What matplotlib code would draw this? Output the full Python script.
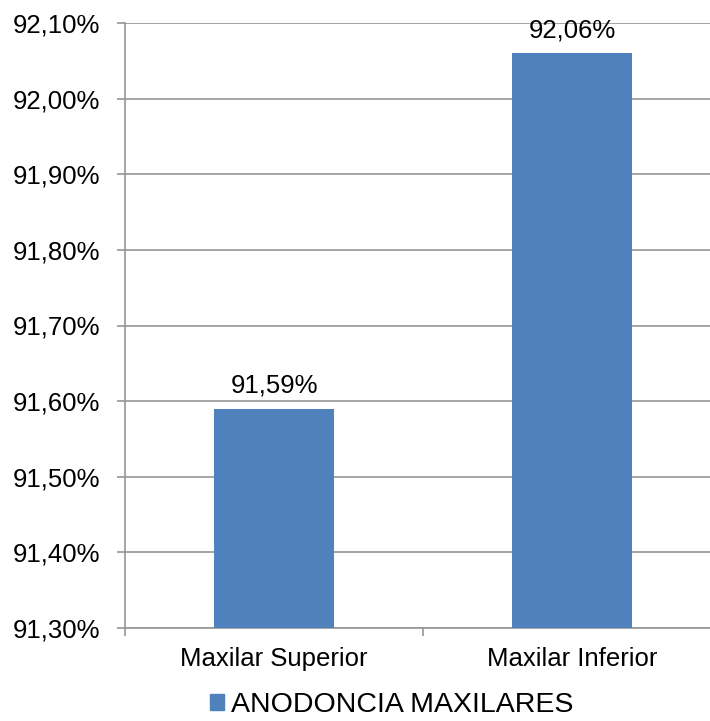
import matplotlib.pyplot as plt
from matplotlib.patches import Patch
from matplotlib.ticker import FixedLocator

categories = ['Maxilar Superior', 'Maxilar Inferior']
values = [91.59, 92.06]
series_name = 'ANODONCIA MAXILARES'
y_ticks = [91.30, 91.40, 91.50, 91.60, 91.70, 91.80, 91.90, 92.00, 92.10]

bar_color = '#4F81BD'
grid_color = '#969696'

plt.rcParams['font.family'] = ['Liberation Sans', 'DejaVu Sans']

fig = plt.figure(figsize=(7.1, 7.21), dpi=100)
ax = fig.add_axes([125 / 710, 93 / 721, 596 / 710, 605 / 721])

x = range(len(categories))
bars = ax.bar(x, values, width=0.4, color=bar_color, zorder=3)

ax.set_xlim(-0.5, len(categories) - 0.5)
ax.set_ylim(y_ticks[0], y_ticks[-1])
ax.set_yticks(y_ticks)
ax.set_yticklabels([f'{v:.2f}%'.replace('.', ',') for v in y_ticks], fontsize=18.5)
ax.yaxis.grid(True, color=grid_color, linewidth=1.2, zorder=0)

ax.set_xticks(list(x))
ax.set_xticklabels(categories, fontsize=18.5)
ax.xaxis.set_minor_locator(FixedLocator([-0.5, 0.5, 1.5]))
ax.tick_params(axis='x', which='major', length=0, pad=14)
ax.tick_params(axis='x', which='minor', length=6, color=grid_color, width=1.2)
ax.tick_params(axis='y', length=6, color=grid_color, width=1.2, pad=12)

for side in ['top', 'right']:
    ax.spines[side].set_visible(False)
for side in ['left', 'bottom']:
    ax.spines[side].set_color(grid_color)
    ax.spines[side].set_linewidth(1.2)

for rect, v in zip(bars, values):
    ax.annotate(f'{v:.2f}%'.replace('.', ','),
                (rect.get_x() + rect.get_width() / 2, v),
                xytext=(0, 8), textcoords='offset points',
                ha='center', va='bottom', fontsize=18.5)

fig.legend(handles=[Patch(color=bar_color, label=series_name)],
           loc='center', bbox_to_anchor=(392 / 710, 16 / 721), frameon=False,
           fontsize=20.5, handlelength=0.5, handleheight=0.5,
           handletextpad=0.25, borderaxespad=0, borderpad=0)

fig.savefig('out.png', dpi=100)
